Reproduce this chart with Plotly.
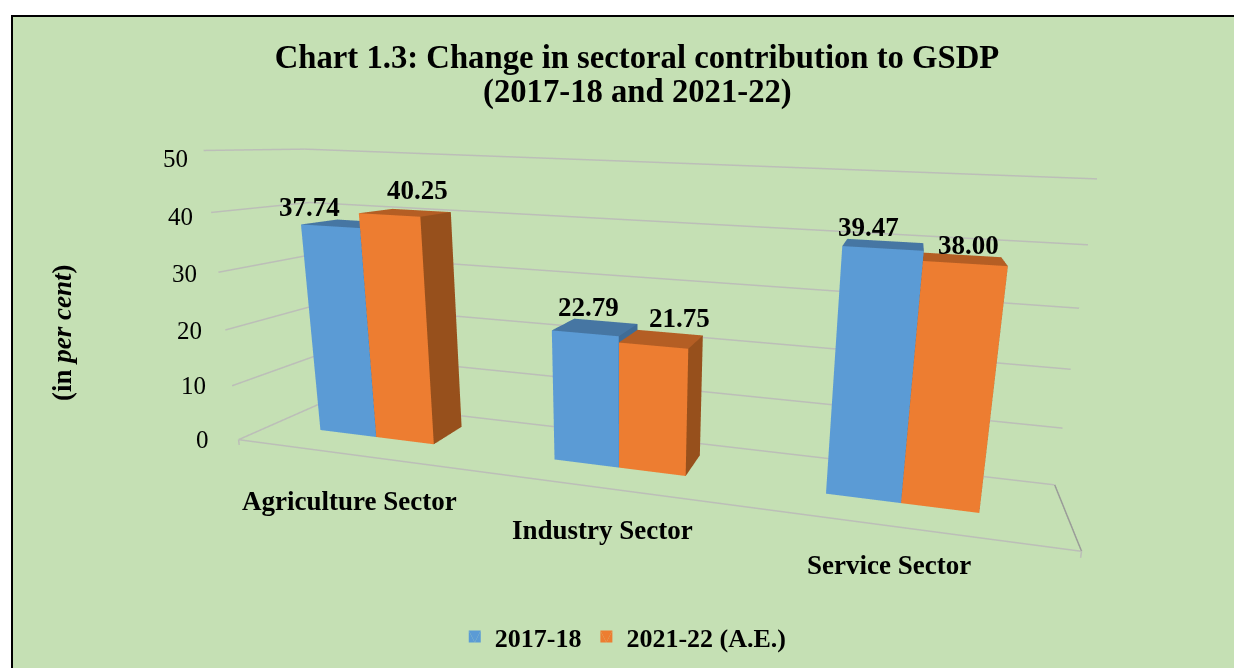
import plotly.graph_objects as go
W,H=1234,668
categories=["Agriculture Sector","Industry Sector","Service Sector"]
series_names=["2017-18","2021-22 (A.E.)"]
values_2017=[37.74,22.79,39.47]
values_2021=[40.25,21.75,38.00]
z_ticks=[0,10,20,30,40,50]
# bar layout on the category axis and floor depth
cat_x=[0.468,1.468,2.468]; bar_w=0.2511; depth=(0.3618,0.7659)
BLUE=('#5B9BD5','#4676A3','#3F6C96'); ORANGE=('#ED7D31','#B45E24','#97501C')
GRID='#BCBEB8'; EDGE='#9A9C98'; GREEN='#C5E0B4'; FONT="Liberation Serif"
# label offsets (px)
lab1=[(-39,17),(-7,20),(-15,18)]
lab2=[(12,23),(18,21),(5,14)]
catoff=[(4,-47),(2,-42),(-11,-38)]
tickoff=[(-28,0),(-24,0),(-21,0),(-19,-1),(-16,-4),(-14,-8)]
fig=go.Figure()
def line(x,y,z,color=GRID,width=3):
    fig.add_trace(go.Scatter3d(x=x,y=y,z=z,mode='lines',line=dict(color=color,width=width),showlegend=False,hoverinfo='skip'))
line([3,0,0,3],[0,0,1,1],[0,0,0,0])
line([3,3],[0,1],[0,0],EDGE)
for v in z_ticks[1:]:
    line([0,0,3],[0,1,1],[v,v,v])
line([0,0],[0,0],[0,-1]); line([3,3],[0,0],[0,-1])
def bar(xa,xb,val,cols,name,leg):
    kw=dict(flatshading=True,hoverinfo='skip',lighting=dict(ambient=1,diffuse=0,specular=0,roughness=1,fresnel=0))
    v0,v1=depth
    fig.add_trace(go.Mesh3d(x=[xa,xb,xb,xa],y=[v0]*4,z=[0,0,val,val],i=[0,0],j=[1,2],k=[2,3],color=cols[0],name=name,showlegend=leg,**kw))
    fig.add_trace(go.Mesh3d(x=[xa,xb,xb,xa],y=[v0,v0,v1,v1],z=[val]*4,i=[0,0],j=[1,2],k=[2,3],color=cols[1],showlegend=False,**kw))
    fig.add_trace(go.Mesh3d(x=[xb]*4,y=[v0,v1,v1,v0],z=[0,0,val,val],i=[0,0],j=[1,2],k=[2,3],color=cols[2],showlegend=False,**kw))
for i in range(3):
    bar(cat_x[i]-bar_w,cat_x[i],values_2017[i],BLUE,series_names[0],i==0)
    bar(cat_x[i],cat_x[i]+bar_w,values_2021[i],ORANGE,series_names[1],i==0)
ym=sum(depth)/2
sa=[]
for i in range(3):
    sa.append(dict(x=cat_x[i]-bar_w/2,y=ym,z=values_2017[i],text=f"<b>{values_2017[i]:.2f}</b>",showarrow=False,xshift=lab1[i][0],yshift=lab1[i][1],font=dict(size=27)))
    sa.append(dict(x=cat_x[i]+bar_w/2,y=ym,z=values_2021[i],text=f"<b>{values_2021[i]:.2f}</b>",showarrow=False,xshift=lab2[i][0],yshift=lab2[i][1],font=dict(size=27)))
    sa.append(dict(x=cat_x[i],y=0,z=0,text=f"<b>{categories[i]}</b>",showarrow=False,xshift=catoff[i][0],yshift=catoff[i][1],font=dict(size=27)))
for v,o in zip(z_ticks,tickoff):
    sa.append(dict(x=0,y=0,z=v,text=str(v),showarrow=False,xanchor='right',xshift=o[0],yshift=o[1],font=dict(size=25)))
hid=dict(visible=False)
az=0.5379
fig.update_layout(width=W,height=H,margin=dict(l=0,r=0,t=0,b=0),paper_bgcolor='white',font=dict(family=FONT,color='black'),
 title=dict(text="<b>Chart 1.3: Change in sectoral contribution to GSDP</b>",x=637/W,xanchor='center',y=1-57/H,yanchor='middle',font=dict(size=32.7)),
 legend=dict(orientation='h',x=.3685,y=.012,yanchor='bottom',bgcolor='rgba(0,0,0,0)',font=dict(size=26,weight='bold')),
 scene=dict(domain=dict(x=[200/W,1],y=[0,1]),xaxis=dict(range=[0,3],**hid),yaxis=dict(range=[0,1],**hid),zaxis=dict(range=[-2,51],**hid),
 aspectmode='manual',aspectratio=dict(x=1.5,y=0.2468,z=az*53/50),annotations=sa,
 camera=dict(eye=dict(x=0.4575,y=-1.3192,z=0.3204+az/100),center=dict(x=0.2379,y=-0.3734,z=0.0811+az/100),up=dict(x=-0.0827,y=0.2264,z=0.9705))),
 shapes=[dict(type='rect',xref='paper',yref='paper',x0=11/W,x1=1,y0=0,y1=1-15/H,fillcolor='black',line_width=0,layer='below'),
         dict(type='rect',xref='paper',yref='paper',x0=13/W,x1=1,y0=0,y1=1-17/H,fillcolor=GREEN,line_width=0,layer='below')],
 annotations=[dict(text="<b>(2017-18 and 2021-22)</b>",x=637/W,y=1-91/H,xref='paper',yref='paper',yanchor='middle',showarrow=False,font=dict(size=32.7)),
   dict(text="<b>(in <i>per cent</i>)</b>",x=62/W,y=1-333/H,xref='paper',yref='paper',xanchor='center',yanchor='middle',showarrow=False,textangle=-90,font=dict(size=27))])
fig.write_html("out.html",post_script="document.body.style.margin='0';",config=dict(displayModeBar=False))
